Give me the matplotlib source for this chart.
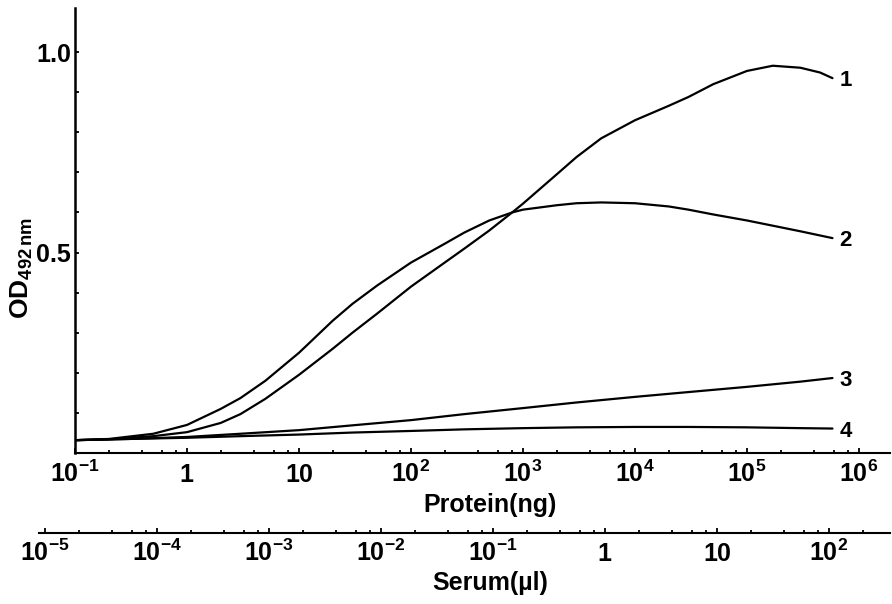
"""OD492 response of four sera against protein / serum amount (log scales)."""

import matplotlib

matplotlib.use("Agg")
import matplotlib.pyplot as plt
from matplotlib import font_manager
from matplotlib.ticker import FixedLocator, LogLocator, NullFormatter

# curve readings: protein amount (ng) and OD at 492 nm
PROTEIN_1 = [0.1, 0.2, 0.5, 1, 2, 3, 5, 10, 20, 30, 50, 100, 200, 300, 500, 800, 1000,
             2000, 3000, 5000, 1e4, 2e4, 3e4, 5e4, 1e5, 1.7e5, 3e5, 4.5e5, 5.8e5]
OD_1 = [0.032, 0.034, 0.042, 0.052, 0.075, 0.097, 0.135, 0.195, 0.26, 0.30, 0.348, 0.415,
        0.475, 0.51, 0.555, 0.60, 0.622, 0.695, 0.738, 0.785, 0.83, 0.866, 0.888, 0.92,
        0.953, 0.966, 0.961, 0.949, 0.935]

PROTEIN_2 = [0.1, 0.2, 0.5, 1, 2, 3, 5, 10, 20, 30, 50, 100, 200, 300, 500, 800, 1000,
             2000, 3000, 5000, 1e4, 2e4, 3e4, 5e4, 1e5, 2e5, 3e5, 5.8e5]
OD_2 = [0.032, 0.035, 0.048, 0.07, 0.11, 0.137, 0.18, 0.25, 0.33, 0.372, 0.418, 0.475,
        0.522, 0.55, 0.58, 0.60, 0.607, 0.618, 0.623, 0.625, 0.623, 0.615, 0.607, 0.595,
        0.58, 0.563, 0.553, 0.536]

PROTEIN_3 = [0.1, 0.3, 1, 3, 10, 30, 100, 300, 1000, 3000, 1e4, 3e4, 1e5, 3e5, 5.8e5]
OD_3 = [0.032, 0.035, 0.040, 0.048, 0.057, 0.069, 0.082, 0.097, 0.112, 0.126, 0.14,
        0.152, 0.165, 0.178, 0.187]

PROTEIN_4 = [0.1, 0.3, 1, 3, 10, 30, 100, 300, 1000, 3000, 1e4, 3e4, 1e5, 3e5, 5.8e5]
OD_4 = [0.032, 0.035, 0.038, 0.042, 0.046, 0.051, 0.055, 0.059, 0.062, 0.064, 0.065,
        0.065, 0.064, 0.062, 0.061]

CURVES = [(PROTEIN_1, OD_1, "1"), (PROTEIN_2, OD_2, "2"),
          (PROTEIN_3, OD_3, "3"), (PROTEIN_4, OD_4, "4")]

PROTEIN_TICKS = [1e-1, 1, 10, 1e2, 1e3, 1e4, 1e5, 1e6]
PROTEIN_LABELS = [r"$10^{-1}$", r"$1$", r"$10$", r"$10^{2}$", r"$10^{3}$",
                  r"$10^{4}$", r"$10^{5}$", r"$10^{6}$"]
SERUM_TICKS = [1e-5, 1e-4, 1e-3, 1e-2, 1e-1, 1, 10, 1e2]
SERUM_LABELS = [r"$10^{-5}$", r"$10^{-4}$", r"$10^{-3}$", r"$10^{-2}$", r"$10^{-1}$",
                r"$1$", r"$10$", r"$10^{2}$"]
OD_TICKS = [0.5, 1.0]
OD_LABELS = ["0.5", "1.0"]
OD_MINOR = [0.1, 0.2, 0.3, 0.4, 0.6, 0.7, 0.8, 0.9]

names = {f.name for f in font_manager.fontManager.ttflist}
NARROW = "Liberation Sans Narrow" if "Liberation Sans Narrow" in names else "Liberation Sans"

plt.rcParams["font.family"] = ["Liberation Sans", "DejaVu Sans"]
plt.rcParams["font.weight"] = "bold"
plt.rcParams["mathtext.fontset"] = "custom"
plt.rcParams["mathtext.rm"] = f"{NARROW}:bold"
plt.rcParams["mathtext.bf"] = f"{NARROW}:bold"
plt.rcParams["mathtext.it"] = f"{NARROW}:bold"
plt.rcParams["mathtext.default"] = "rm"

W, H = 892, 604
fig = plt.figure(figsize=(W / 100, H / 100), dpi=100)

# main axes (protein scale)
ax = fig.add_axes([75 / W, 151 / H, 815 / W, 445 / H])
ax.set_xscale("log")
ax.set_xlim(0.1, 10 ** 6.277)
ax.set_ylim(0, 1.11)
for side in ("top", "right"):
    ax.spines[side].set_visible(False)
ax.spines["left"].set_linewidth(1.8)
ax.spines["bottom"].set_linewidth(1.5)

for xs, ys, name in CURVES:
    ax.plot(xs, ys, color="black", lw=1.6, solid_capstyle="round", solid_joinstyle="round")
    ax.annotate(name, (xs[-1], ys[-1]), xytext=(5, -2), textcoords="offset points",
                ha="left", va="center", fontsize=16, fontweight="bold")

ax.set_xticks(PROTEIN_TICKS, PROTEIN_LABELS)
ax.xaxis.set_minor_locator(LogLocator(base=10, subs=[2, 4, 6, 8], numticks=20))
ax.xaxis.set_minor_formatter(NullFormatter())
ax.tick_params(axis="x", which="both", direction="in", width=1.3, pad=21, labelsize=18)
ax.tick_params(axis="x", which="major", length=3.5)
ax.tick_params(axis="x", which="minor", length=2.5)
for lbl in ax.get_xticklabels():
    lbl.set_verticalalignment("baseline")

ax.set_yticks(OD_TICKS, OD_LABELS)
ax.yaxis.set_minor_locator(FixedLocator(OD_MINOR))
ax.tick_params(axis="y", which="both", direction="in", width=1.3, length=3, pad=3)
for lbl in ax.get_yticklabels():
    lbl.set_fontfamily(NARROW)
    lbl.set_fontsize(18)
    lbl.set_fontweight("bold")

# serum scale below
ax2 = fig.add_axes([39 / W, 71 / H, 851 / W, 0.03])
ax2.set_xscale("log")
ax2.set_xlim(10 ** -5.054, 10 ** 2.545)
ax2.set_facecolor("none")
for side in ("top", "right", "left"):
    ax2.spines[side].set_visible(False)
ax2.spines["bottom"].set_linewidth(1.5)
ax2.set_yticks([])
ax2.set_xticks(SERUM_TICKS, SERUM_LABELS)
ax2.xaxis.set_minor_locator(LogLocator(base=10, subs=[2, 4, 6, 8], numticks=20))
ax2.xaxis.set_minor_formatter(NullFormatter())
ax2.tick_params(axis="x", which="both", direction="in", width=1.3, pad=20, labelsize=18)
ax2.tick_params(axis="x", which="major", length=3.5)
ax2.tick_params(axis="x", which="minor", length=2.5)
for lbl in ax2.get_xticklabels():
    lbl.set_verticalalignment("baseline")

fig.text(490 / W, 1 - 505 / H, "Protein(ng)", ha="center", va="center",
         fontsize=18, fontweight="bold")
fig.text(490 / W, 1 - 583 / H, "Serum(\u00b5l)", ha="center", va="center",
         fontsize=18, fontweight="bold")
fig.text(22 / W, 1 - 268 / H, r"$\mathbf{OD}_{\mathbf{492}\,\mathrm{nm}}$",
         rotation=90, ha="center", va="center", fontsize=19)

fig.savefig("out.png", dpi=100)
